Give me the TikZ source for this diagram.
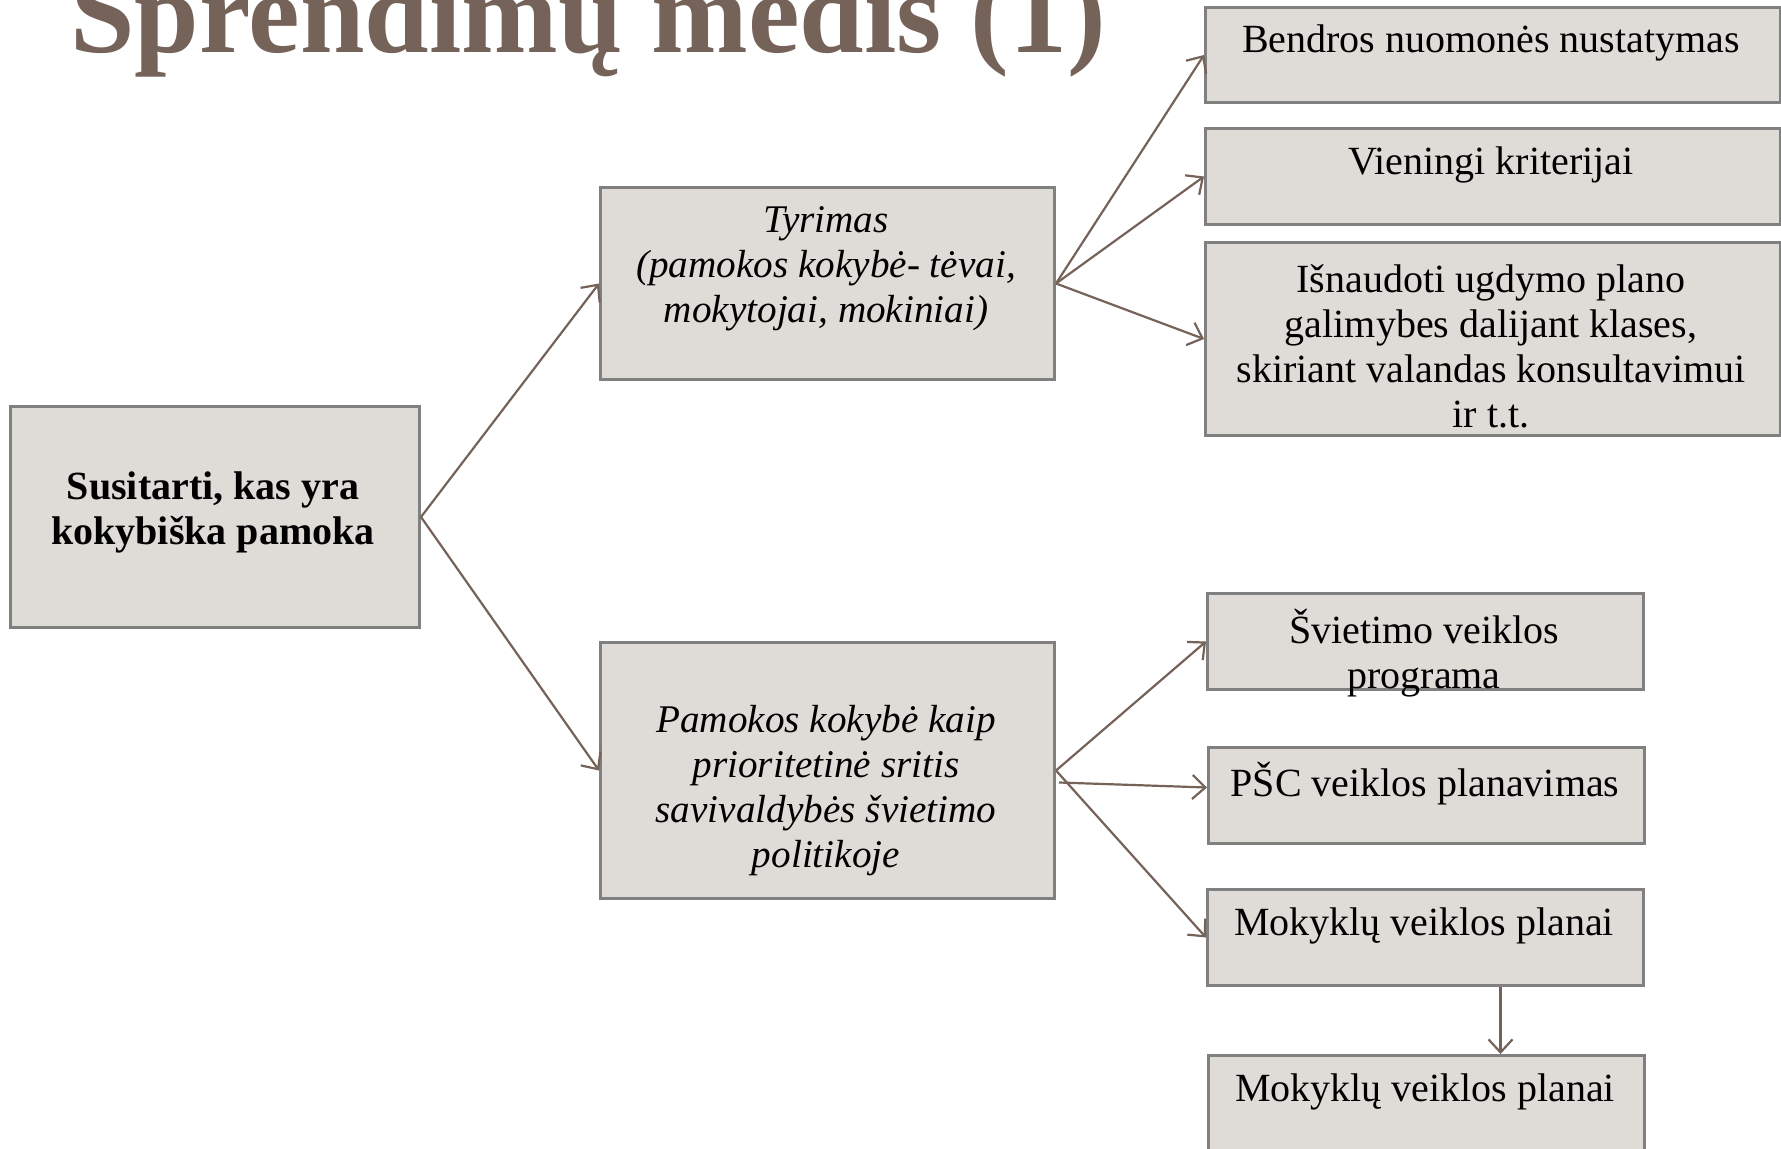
\documentclass[tikz,border=0pt]{standalone}
\usepackage{fontspec}
\setmainfont{Liberation Serif}
\usetikzlibrary{arrows.meta}
\definecolor{titlec}{RGB}{117,98,89}
\definecolor{boxfill}{RGB}{223,219,215}
\definecolor{boxline}{RGB}{128,128,128}
\definecolor{arrowc}{RGB}{117,98,89}
\begin{document}
\begin{tikzpicture}[x=0.5pt,y=-0.5pt,
  box/.style={draw=boxline, fill=boxfill, line width=1.5pt, inner sep=0pt, anchor=north west},
  txt/.style={font=\fontsize{20}{22.5}\selectfont, align=center, inner sep=0pt},
  arr/.style={draw=arrowc, line width=1.1pt, -{Straight Barb[length=6.5pt,width=12pt,line width=1.1pt]}}]
\path[use as bounding box] (0,0) rectangle (1781,1149);
\clip (0,0) rectangle (1781,1149);
\fill[white] (0,0) rectangle (1781,1149);

% title
\node[anchor=base west, inner sep=0pt, text=titlec, font=\fontsize{58}{62}\selectfont\bfseries] (title) at (70,53) {Sprendimų medis (1)};

% boxes
\node[box, minimum width=204.5pt, minimum height=110.5pt] (root) at (9,405) {};
\node[box, minimum width=227pt, minimum height=96pt] (tyr) at (599,186) {};
\node[box, minimum width=227pt, minimum height=128pt] (pam) at (599,641) {};
\node[box, minimum width=287.5pt, minimum height=47.5pt] (ben) at (1204,6) {};
\node[box, minimum width=287.5pt, minimum height=48pt] (vie) at (1204,127) {};
\node[box, minimum width=287.5pt, minimum height=96.5pt] (isn) at (1204,241) {};
\node[box, minimum width=218pt, minimum height=48pt] (svi) at (1206,592) {};
\node[box, minimum width=218pt, minimum height=48pt] (psc) at (1207,746) {};
\node[box, minimum width=218pt, minimum height=48pt] (mk1) at (1206,888) {};
\node[box, minimum width=218pt, minimum height=48pt] (mk2) at (1207,1054) {};

% texts
\node[txt, font=\fontsize{20}{22.5}\selectfont\bfseries] (troot) at (213,512) {Susitarti, kas yra\\kokybiška pamoka};
\node[txt, font=\fontsize{19.6}{22.5}\selectfont\itshape] (ttyr) at (826,269) {Tyrimas\\(pamokos kokybė- tėvai,\\mokytojai, mokiniai)};
\node[txt, font=\fontsize{19.6}{22.5}\selectfont\itshape] (tpam) at (826,791) {Pamokos kokybė kaip\\prioritetinė sritis\\savivaldybės švietimo\\politikoje};
\node[txt] (tben) at (1491,43) {Bendros nuomonės nustatymas};
\node[txt] (tvie) at (1491,165) {Vieningi kriterijai};
\node[txt] (tisn) at (1491,346) {Išnaudoti ugdymo plano\\galimybes dalijant klases,\\skiriant valandas konsultavimui\\ir t.t.};
\node[txt] (tsvi) at (1424,653) {Švietimo veiklos\\programa};
\node[txt] (tpsc) at (1425,784) {PŠC veiklos planavimas};
\node[txt] (tmk1) at (1424,926) {Mokyklų veiklos planai};
\node[txt] (tmk2) at (1425,1092) {Mokyklų veiklos planai};

% connectors
\draw[arr] (root.east) -- (tyr.west);
\draw[arr] (root.east) -- (pam.west);
\draw[arr] (tyr.east) -- (ben.west);
\draw[arr] (tyr.east) -- (vie.west);
\draw[arr] (tyr.east) -- (isn.west);
\draw[arr] (pam.east) -- (svi.west);
\draw[arr] ([xshift=1.5pt,yshift=-6pt]pam.east) -- ([yshift=4pt]psc.west);
\draw[arr] (pam.east) -- (mk1.west);
\draw[arr] ([xshift=37.5pt]mk1.south) -- ([xshift=37pt]mk2.north);
\end{tikzpicture}
\end{document}
